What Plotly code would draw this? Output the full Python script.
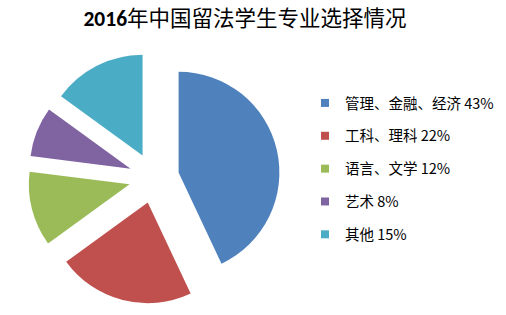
import plotly.graph_objects as go

categories = ["管理、金融、经济", "工科、理科", "语言、文学", "艺术", "其他"]
values = [43, 22, 12, 8, 15]
colors = ["#4F81BD", "#C0504D", "#9BBB59", "#8064A2", "#4BACC6"]
title = "2016年中国留法学生专业选择情况"

font_family = "Calibri, Carlito, 'Noto Sans CJK SC', sans-serif"
legend_family = "'Noto Sans CJK SC', sans-serif"

fig = go.Figure()
fig.add_trace(go.Pie(
    labels=categories, values=values, sort=False, direction="clockwise", rotation=0,
    marker=dict(colors=colors, line=dict(width=0)),
    pull=[0.25] * len(values), textinfo="none", hoverinfo="label+percent",
    showlegend=False,
    domain=dict(x=[28 / 506, 280 / 506], y=[11 / 315, 263 / 315]),
))
for i, (c, v) in enumerate(zip(categories, values)):
    fig.add_trace(go.Scatter(
        x=[None], y=[None], mode="markers", name=f"{c} {v}%",
        marker=dict(symbol="square", size=8, color=colors[i]),
        legendgroup=f"g{i}", showlegend=True,
    ))

fig.update_layout(
    width=506, height=315, margin=dict(l=0, r=0, t=0, b=0),
    paper_bgcolor="white", plot_bgcolor="white",
    font=dict(family=font_family, color="#000000"),
    title=dict(text="<b>2016</b>年中国留法学生专业选择情况", x=245 / 506, xanchor="center",
               y=1 - 18 / 315, yanchor="middle", yref="container",
               font=dict(size=21.5, family=font_family, color="#000000")),
    xaxis=dict(visible=False), yaxis=dict(visible=False),
    legend=dict(x=305 / 506, xanchor="left", y=1 - 87 / 315, yanchor="top",
                font=dict(size=14.5, family=legend_family, color="#000000"),
                traceorder="grouped", tracegroupgap=11, bgcolor="rgba(0,0,0,0)"),
)
fig.write_html("out.html")
